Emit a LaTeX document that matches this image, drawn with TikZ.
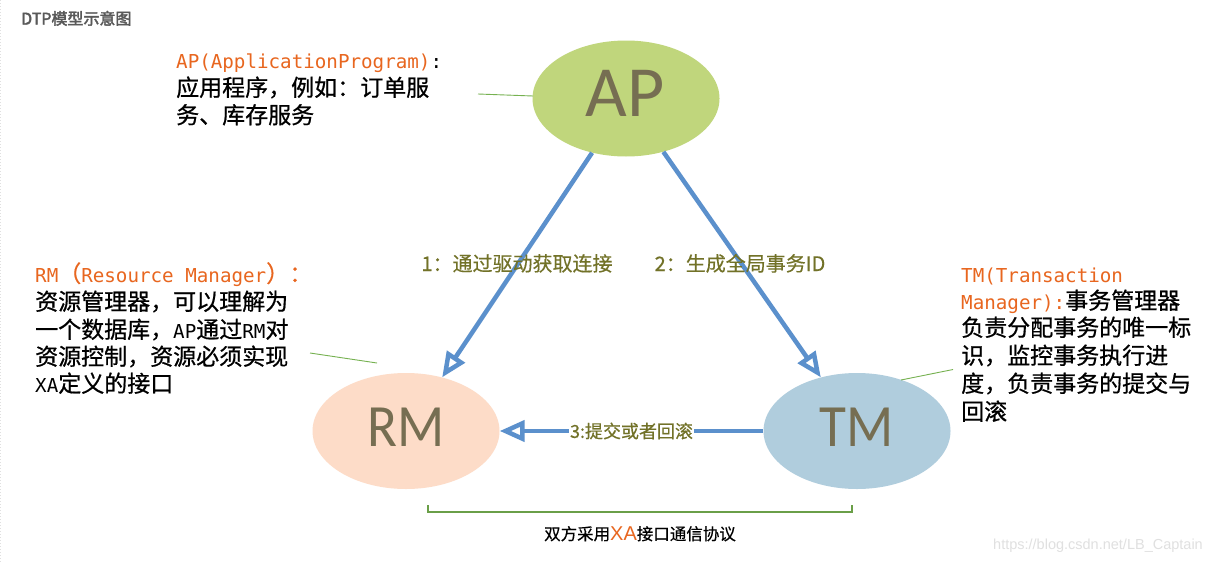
\documentclass[tikz,border=0pt]{standalone}
\usepackage{fontspec}
\setmainfont{Noto Sans CJK SC}
\newfontfamily\fCJK{Noto Sans CJK SC}[FakeBold=0.7]
\newfontfamily\fCJKl{Noto Sans CJK SC}[FakeBold=0.4]
\newfontfamily\fCJKb{Noto Sans CJK SC}[FakeBold=2.5]
\newfontfamily\fMono{DejaVu Sans Mono}
\newfontfamily\fCarl{Carlito}
\newfontfamily\fArial{Liberation Sans}
\usetikzlibrary{arrows.meta,shapes.geometric}
\definecolor{apfill}{HTML}{C0D67C}
\definecolor{rmfill}{HTML}{FDDCC8}
\definecolor{tmfill}{HTML}{B0CDDD}
\definecolor{elltext}{HTML}{766E52}
\definecolor{arrblue}{HTML}{5B90CC}
\definecolor{lblolive}{HTML}{727228}
\definecolor{orangetxt}{HTML}{E8661F}
\definecolor{greenline}{HTML}{76B150}
\definecolor{titlegray}{HTML}{595959}
\newcommand{\setfs}[2]{\fontsize{#1}{#2}\selectfont}
\newcommand{\om}[1]{{\fMono\setfs{19.2}{23}#1}}
\begin{document}
\begin{tikzpicture}[x=1pt,y=-1pt,
  ell/.style={ellipse, draw=none, inner sep=0pt, minimum width=187pt, minimum height=116pt},
  bigtxt/.style={inner sep=0pt, text=elltext},
  desc/.style={inner sep=0pt, anchor=base west, font=\fCJK\setfs{23}{23}},
  flow/.style={draw=arrblue, line width=4.5pt, -{Triangle[open,length=25pt,width=21pt,fill=white]}},
  lbl/.style={inner sep=0pt, anchor=base, text=lblolive},
  thin/.style={draw=greenline, line width=0.9pt}
]
\useasboundingbox (0,0) rectangle (1230,562);
\fill[white] (0,0) rectangle (1230,562);
\draw[black!12, dotted, line width=1pt] (0.5,0) -- (0.5,562);

% title
\node[inner sep=0pt, anchor=base west, text=titlegray, font=\fCJKb\setfs{16}{16}] (title) at (21,24.5) {DTP模型示意图};

% ellipses
\node[ell, fill=apfill] (AP) at (626,98.5) {};
\node[ell, fill=rmfill] (RM) at (406,431) {};
\node[ell, fill=tmfill] (TM) at (857,431) {};
\node[bigtxt, font=\fCarl\setfs{72}{72}] (APt) at (625,93.5) {AP};
\node[bigtxt, font=\fCarl\setfs{60}{60}] (RMt) at (406.5,427.5) {\scalebox{0.92}[1]{RM}};
\node[bigtxt, font=\fCarl\setfs{60}{60}] (TMt) at (856.5,427.5) {\scalebox{0.92}[1]{TM}};

% arrows
\draw[flow] (AP.-122) -- (RM.56);
\draw[flow] (AP.-55) -- (TM.124);
\draw[flow] (TM.180) -- node[midway, fill=white, inner sep=1pt, text=lblolive, font=\fCJKl\setfs{18}{18}] (l3) {3:提交或者回滚} (RM.0);

% arrow labels
\node[lbl, font=\fCJKl\setfs{20}{20}] (l1) at (517,271) {1：通过驱动获取连接};
\node[lbl, font=\fCJKl\setfs{20}{20}] (l2) at (740,271) {2：生成全局事务ID};

% AP description
\node[desc] (ap1) at (176,68) {\textcolor{orangetxt}{\om{AP(ApplicationProgram)}}\om{:}};
\node[desc] (ap2) at (176,96) {应用程序，例如：订单服};
\node[desc] (ap3) at (176,123.5) {务、库存服务};

% RM description
\node[desc] (rm1) at (35,282) {\color{orangetxt}\om{RM}（\om{Resource Manager}）：};
\node[desc] (rm2) at (35,310) {资源管理器，可以理解为};
\node[desc] (rm3) at (35,338) {一个数据库，\om{AP}通过\om{RM}对};
\node[desc] (rm4) at (35,365) {资源控制，资源必须实现};
\node[desc] (rm5) at (35,392) {\om{XA}定义的接口};

% TM description
\node[desc] (tm1) at (961,282) {\textcolor{orangetxt}{\om{TM(Transaction}}};
\node[desc] (tm2) at (961,309) {\textcolor{orangetxt}{\om{Manager):}}事务管理器};
\node[desc] (tm3) at (961,336) {负责分配事务的唯一标};
\node[desc] (tm4) at (961,364) {识，监控事务执行进};
\node[desc] (tm5) at (961,392) {度，负责事务的提交与};
\node[desc] (tm6) at (961,420) {回滚};

% thin green pointer lines
\coordinate (apl) at (478,94);
\coordinate (apr) at (533,96);
\draw[thin] (apl) -- (apr);
\coordinate (rml) at (310,353);
\coordinate (rmr) at (377,363);
\draw[thin] (rml) -- (rmr);
\coordinate (tml) at (901,380);
\coordinate (tmr) at (953,369.5);
\draw[thin] (tml) -- (tmr);

% bracket
\coordinate (b1) at (428,505);
\coordinate (b2) at (428,512);
\coordinate (b3) at (852,512);
\coordinate (b4) at (852,505);
\draw[draw=greenline!90!black, line width=1.5pt] (b1) -- (b2) -- (b3) -- (b4);
\node[inner sep=0pt, anchor=base, font=\fCJKl\setfs{16.5}{16.5}] (bottom) at (640,540) {双方采用{\fArial\setfs{20}{20}\color{orangetxt}XA}接口通信协议};

% watermark
\node[inner sep=0pt, anchor=base west, text=black!12, font=\fArial\setfs{14.5}{14.5}] (wm) at (993,549) {https://blog.csdn.net/LB\_Captain};
\end{tikzpicture}
\end{document}
